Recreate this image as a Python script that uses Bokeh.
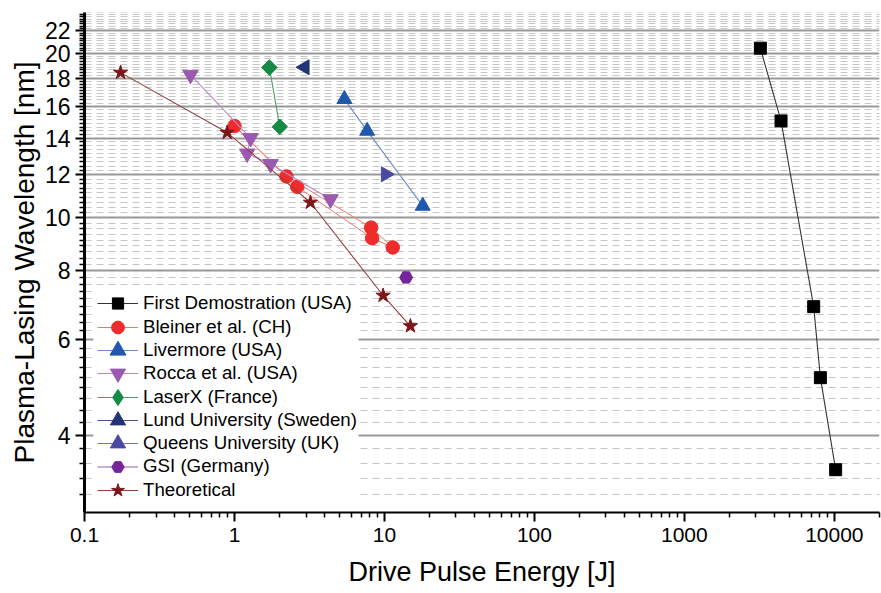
import math
from bokeh.plotting import figure
from bokeh.models import FixedTicker, Legend, LegendItem, Range1d, BoxAnnotation
from bokeh.embed import file_html
from bokeh.resources import INLINE

# ---------------- data ----------------
first_x = [3210, 4410, 7280, 8070, 10200]
first_y = [20.45, 15.05, 6.88, 5.10, 3.46]

bleiner_x = [1.0, 2.22, 2.62, 8.15, 8.28, 11.36]
bleiner_y = [14.73, 11.91, 11.40, 9.60, 9.18, 8.83]
bleiner_path_a = [0, 1, 3, 5]
bleiner_path_b = [0, 2, 4, 5]

livermore_x = [5.41, 7.67, 18.0]
livermore_y = [16.5, 14.43, 10.52]

rocca_x = [0.509, 1.28, 1.215, 1.74, 4.37]
rocca_y = [18.28, 14.0, 13.12, 12.55, 10.82]

laserx_x = [1.71, 2.005]
laserx_y = [18.85, 14.68]

lund_x = [2.94]
lund_y = [18.87]

queens_x = [10.2]
queens_y = [12.02]

gsi_x = [13.95]
gsi_y = [7.78]

theo_x = [0.174, 0.894, 3.21, 9.8, 14.9]
theo_y = [18.45, 14.33, 10.67, 7.21, 6.34]

series_names = ["First Demostration (USA)", "Bleiner et al. (CH)", "Livermore (USA)",
                "Rocca et al. (USA)", "LaserX (France)", "Lund University (Sweden)",
                "Queens University (UK)", "GSI (Germany)", "Theoretical"]

x_ticks = [0.1, 1, 10, 100, 1000, 10000]
x_tick_labels = ["0.1", "1", "10", "100", "1000", "10000"]
y_ticks = [4, 6, 8, 10, 12, 14, 16, 18, 20, 22]
y_tick_labels = ["4", "6", "8", "10", "12", "14", "16", "18", "20", "22"]

# ---------------- styles ----------------
styles = [
    dict(x=first_x, y=first_y, marker="square", size=12, color="#000000", line="#333333", angle=0, lg=28),
    dict(x=bleiner_x, y=bleiner_y, marker="circle", size=13.5, color="#EE2C2C", line="#F07A6A", angle=0, lg=32),
    dict(x=livermore_x, y=livermore_y, marker="triangle", size=15, color="#1F58AE", line="#6A8BCB", angle=0, lg=40),
    dict(x=rocca_x, y=rocca_y, marker="inverted_triangle", size=15.5, color="#9B59B0", line="#B98AC8", angle=0, lg=38),
    dict(x=laserx_x, y=laserx_y, marker="square", size=11, color="#148A45", line="#4E9E68", angle=math.pi / 4, lg=40,
         legend_marker="diamond"),
    dict(x=lund_x, y=lund_y, marker="triangle", size=15, color="#233377", line="#4A5590", angle=math.pi / 2, lg=38),
    dict(x=queens_x, y=queens_y, marker="triangle", size=15, color="#4B48A0", line="#7573B8", angle=-math.pi / 2, lg=38),
    dict(x=gsi_x, y=gsi_y, marker="hex", size=13, color="#76259A", line="#9A5DB3", angle=0, lg=31),
    dict(x=theo_x, y=theo_y, marker="star", size=15, color="#7E1518", line="#94403F", angle=0, lg=34),
]

FONT = "Liberation Sans"

p = figure(width=881, height=593, x_axis_type="log", y_axis_type="log",
           x_range=Range1d(0.1, 20000), y_range=Range1d(2.889, 23.77),
           output_backend="svg", toolbar_location=None,
           min_border_left=84, min_border_right=2, min_border_top=12, min_border_bottom=81)
p.outline_line_color = None
p.background_fill_color = "white"
p.border_fill_color = "white"

# minor tick positions (axis decoration only)
x_minor = [m * 10.0 ** d for d in range(-1, 5) for m in range(2, 10)]
y_minor = [4 - 2 * k / 9 for k in range(1, 6)]
for a, b in zip(y_ticks + [24], (y_ticks + [24])[1:]):
    y_minor += [a + (b - a) * k / 9 for k in range(1, 9)]

p.xaxis.ticker = FixedTicker(ticks=x_ticks, minor_ticks=x_minor)
p.yaxis.ticker = FixedTicker(ticks=y_ticks, minor_ticks=y_minor)
p.xaxis.major_label_overrides = {t: l for t, l in zip(x_ticks, x_tick_labels)}
p.yaxis.major_label_overrides = {t: l for t, l in zip(y_ticks, y_tick_labels)}

for ax in (p.xaxis, p.yaxis):
    ax.major_tick_in = 0
    ax.minor_tick_in = 0
    ax.major_tick_out = 9
    ax.minor_tick_out = 5
    ax.axis_line_color = "black"
    ax.major_tick_line_color = "black"
    ax.minor_tick_line_color = "black"
    ax.major_tick_line_width = 2
    ax.minor_tick_line_width = 1.5
    ax.major_label_text_font = FONT
    ax.major_label_text_color = "black"
    ax.axis_label_text_font = FONT
    ax.axis_label_text_font_style = "normal"
    ax.axis_label_text_color = "black"

p.xaxis.axis_line_width = 2
p.yaxis.axis_line_width = 3
p.xaxis.major_label_text_font_size = "21px"
p.yaxis.major_label_text_font_size = "23px"
p.xaxis.major_label_standoff = 6
p.yaxis.major_label_standoff = 5
p.xaxis.axis_label = "Drive Pulse Energy [J]"
p.yaxis.axis_label = "Plasma-Lasing Wavelength [nm]"
p.xaxis.axis_label_text_font_size = "27px"
p.yaxis.axis_label_text_font_size = "28px"
p.xaxis.axis_label_standoff = 12
p.yaxis.axis_label_standoff = 2

p.xgrid.visible = False
p.ygrid.grid_line_color = "#999999"
p.ygrid.grid_line_width = 2
p.ygrid.minor_grid_line_color = "#c6c6c6"
p.ygrid.minor_grid_line_width = 1
p.ygrid.minor_grid_line_dash = "7 5"

# white legend background
p.add_layout(BoxAnnotation(left=9, right=274, top=224, bottom=2,
                           left_units="screen", right_units="screen",
                           top_units="screen", bottom_units="screen",
                           fill_color="white", fill_alpha=1.0, line_color=None))

FRAME_H = 500
for i, (name, s) in enumerate(zip(series_names, styles)):
    if s["x"] is bleiner_x:
        lines = []
        for path in (bleiner_path_a, bleiner_path_b):
            lines.append(p.line([bleiner_x[k] for k in path], [bleiner_y[k] for k in path],
                                line_color=s["line"], line_width=1.0))
        lr = lines[0]
    else:
        lr = p.line(s["x"], s["y"], line_color=s["line"], line_width=1.1)
    sr = p.scatter(s["x"], s["y"], marker=s["marker"], size=s["size"],
                   fill_color=s["color"], line_color=s["color"], angle=s["angle"])
    leg_r = sr
    if "legend_marker" in s:
        # hidden twin renderer, only used to draw the diamond key in the legend
        leg_r = p.scatter(s["x"], s["y"], marker=s["legend_marker"], size=s["size"],
                          fill_color=s["color"], line_color=s["color"], visible=False)
    center = 291.3 + 23.3 * i  # item centre, measured from the top of the frame
    vy = (FRAME_H - center) - s["lg"] / 2
    leg = Legend(items=[LegendItem(label=name, renderers=[lr, leg_r])], location=(13, vy))
    leg.label_text_font = FONT
    leg.label_text_font_size = "18.7px"
    leg.label_text_color = "black"
    leg.glyph_width = 41
    leg.glyph_height = s["lg"]
    leg.label_height = 20
    leg.spacing = 0
    leg.padding = 0
    leg.margin = 0
    leg.label_standoff = 5
    leg.border_line_color = None
    leg.background_fill_alpha = 0.0
    leg.inactive_fill_alpha = 0.0
    p.add_layout(leg)

open("out.html", "w").write(file_html(p, INLINE))
